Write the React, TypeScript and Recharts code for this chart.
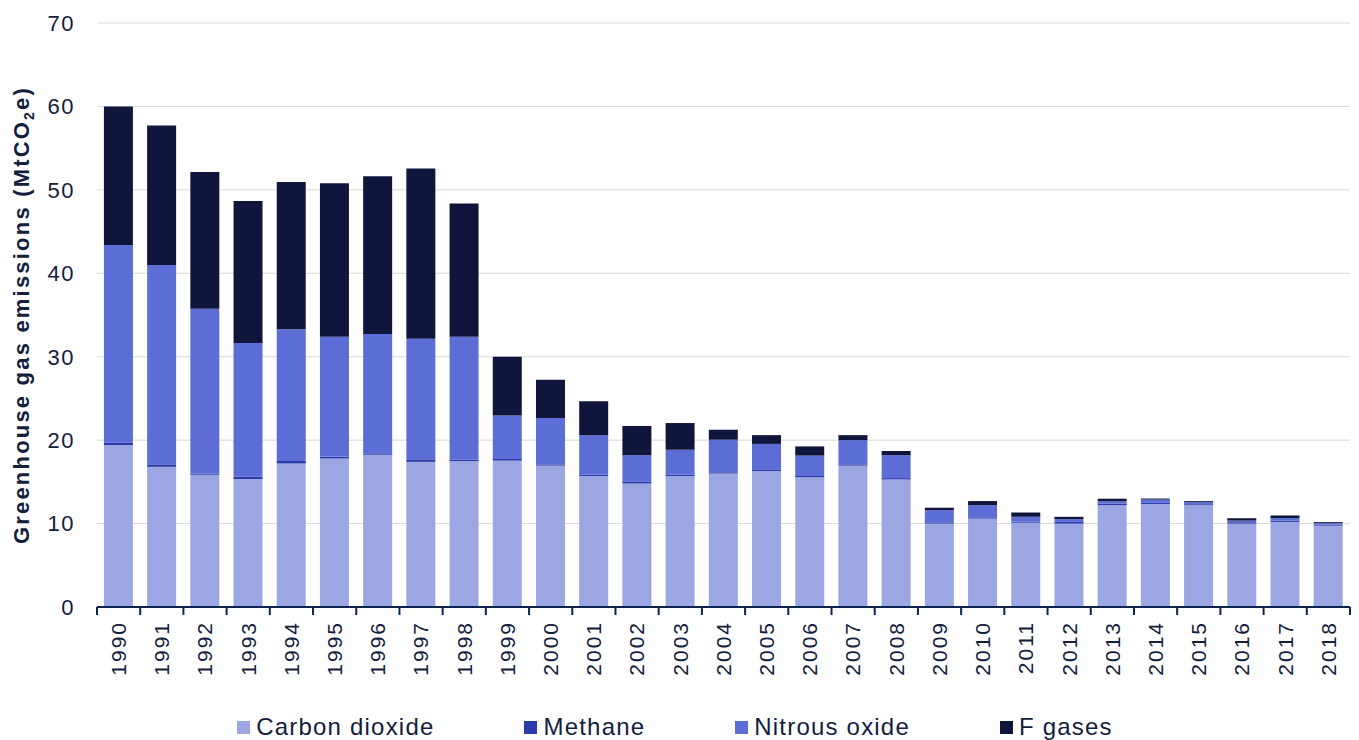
import { BarChart, Bar, XAxis, YAxis, CartesianGrid, Legend } from 'recharts'

const YEARS = ['1990', '1991', '1992', '1993', '1994', '1995', '1996', '1997', '1998', '1999', '2000', '2001', '2002', '2003', '2004', '2005', '2006', '2007', '2008', '2009', '2010', '2011', '2012', '2013', '2014', '2015', '2016', '2017', '2018']
const CO2 = [19.4, 16.8, 15.85, 15.35, 17.2, 17.8, 18.25, 17.4, 17.5, 17.55, 16.95, 15.7, 14.8, 15.7, 16.0, 16.3, 15.55, 16.95, 15.3, 10.0, 10.6, 10.1, 10.0, 12.2, 12.35, 12.2, 10.0, 10.2, 9.75]
const METHANE = [0.3, 0.3, 0.15, 0.3, 0.3, 0.2, 0.17, 0.3, 0.15, 0.2, 0.15, 0.15, 0.2, 0.15, 0.15, 0.2, 0.15, 0.15, 0.15, 0.15, 0.15, 0.12, 0.2, 0.2, 0.13, 0.12, 0.16, 0.17, 0.1]
const NITROUS = [23.7, 23.9, 19.75, 16.0, 15.8, 14.4, 14.3, 14.45, 14.75, 5.2, 5.55, 4.75, 3.2, 3.0, 3.9, 3.05, 2.45, 2.9, 2.75, 1.45, 1.45, 0.6, 0.33, 0.28, 0.4, 0.25, 0.2, 0.28, 0.2]
const FGASES = [16.6, 16.7, 16.4, 17.0, 17.65, 18.4, 18.9, 20.4, 15.95, 7.05, 4.6, 4.05, 3.5, 3.2, 1.2, 1.05, 1.1, 0.6, 0.5, 0.3, 0.5, 0.5, 0.28, 0.3, 0.12, 0.12, 0.28, 0.32, 0.12]
const Y_TICKS = [0, 10, 20, 30, 40, 50, 60, 70]

const SERIES = [
  { key: 'co2', name: 'Carbon dioxide', color: '#9BA6E3' },
  { key: 'methane', name: 'Methane', color: '#2B3BAB' },
  { key: 'nitrous', name: 'Nitrous oxide', color: '#5C6ED6' },
  { key: 'fgases', name: 'F gases', color: '#10163B' },
]

const W = 1359
const H = 740
const MARGIN = { top: 23, right: 9, left: 0, bottom: 0 }
const Y_W = 97
const HALF_SLOT = (W - Y_W - MARGIN.right) / YEARS.length / 2
const INK = '#13203D'
const AXIS = '#0F2350'
const FONT = '"Liberation Sans", Arial, sans-serif'

const data = YEARS.map((year, i) => ({
  year,
  co2: CO2[i],
  methane: METHANE[i],
  nitrous: NITROUS[i],
  fgases: FGASES[i],
}))

function YearTick(props: any) {
  const { x, y, payload, index, visibleTicksCount } = props
  return (
    <g>
      <line x1={x - HALF_SLOT} x2={x - HALF_SLOT} y1={y} y2={y + 8} stroke={AXIS} strokeWidth={2} />
      {index === visibleTicksCount - 1 && (
        <line x1={x + HALF_SLOT} x2={x + HALF_SLOT} y1={y} y2={y + 8} stroke={AXIS} strokeWidth={2} />
      )}
      <g transform={`translate(${x},${y + 14}) rotate(-90)`}>
        <text textAnchor="end" dy="0.35em" fontSize={21} letterSpacing={2} fill={INK} fontFamily={FONT}>
          {payload.value}
        </text>
      </g>
    </g>
  )
}

function YTitle(props: any) {
  const { viewBox } = props
  const cy = viewBox.y + viewBox.height / 2
  return (
    <text
      transform={`translate(21,${cy}) rotate(-90)`}
      textAnchor="middle"
      dy="0.35em"
      fontSize={22}
      fontWeight="bold"
      letterSpacing={2.2}
      fill={INK}
      fontFamily={FONT}
    >
      Greenhouse gas emissions (MtCO<tspan fontSize={14} dy={5}>2</tspan><tspan dy={-5}>e)</tspan>
    </text>
  )
}

function LegendContent() {
  return (
    <div style={{ display: 'flex', justifyContent: 'center', alignItems: 'center', height: 38, paddingTop: 12, boxSizing: 'border-box', gap: 90, fontFamily: FONT }}>
      {SERIES.map(s => (
        <div key={s.key} style={{ display: 'flex', alignItems: 'center' }}>
          <span style={{ width: 13, height: 13, background: s.color, marginRight: 6, display: 'inline-block' }} />
          <span style={{ fontSize: 24, letterSpacing: 1.2, color: INK, lineHeight: '26px' }}>{s.name}</span>
        </div>
      ))}
    </div>
  )
}

export default function App() {
  return (
    <div style={{ position: 'absolute', left: 0, top: 0, width: W, height: H, background: '#fff' }}>
      <BarChart width={W} height={H} data={data} margin={MARGIN} barCategoryGap="16%">
        <CartesianGrid vertical={false} stroke="#D9D9D9" strokeWidth={1} />
        <XAxis
          dataKey="year"
          height={95}
          interval={0}
          tickSize={0}
          tickMargin={0}
          tickLine={false}
          axisLine={{ stroke: AXIS, strokeWidth: 2 }}
          tick={<YearTick />}
        />
        <YAxis
          width={Y_W}
          domain={[0, 70]}
          ticks={Y_TICKS}
          interval={0}
          axisLine={false}
          tickLine={false}
          tickSize={0}
          tickMargin={22}
          tick={{ fontSize: 22, fill: INK, fontFamily: FONT, letterSpacing: 1.5 }}
          label={<YTitle />}
        />
        <Legend verticalAlign="bottom" height={38} content={<LegendContent />} />
        {SERIES.map(s => (
          <Bar key={s.key} dataKey={s.key} name={s.name} stackId="a" fill={s.color} isAnimationActive={false} />
        ))}
      </BarChart>
    </div>
  )
}
